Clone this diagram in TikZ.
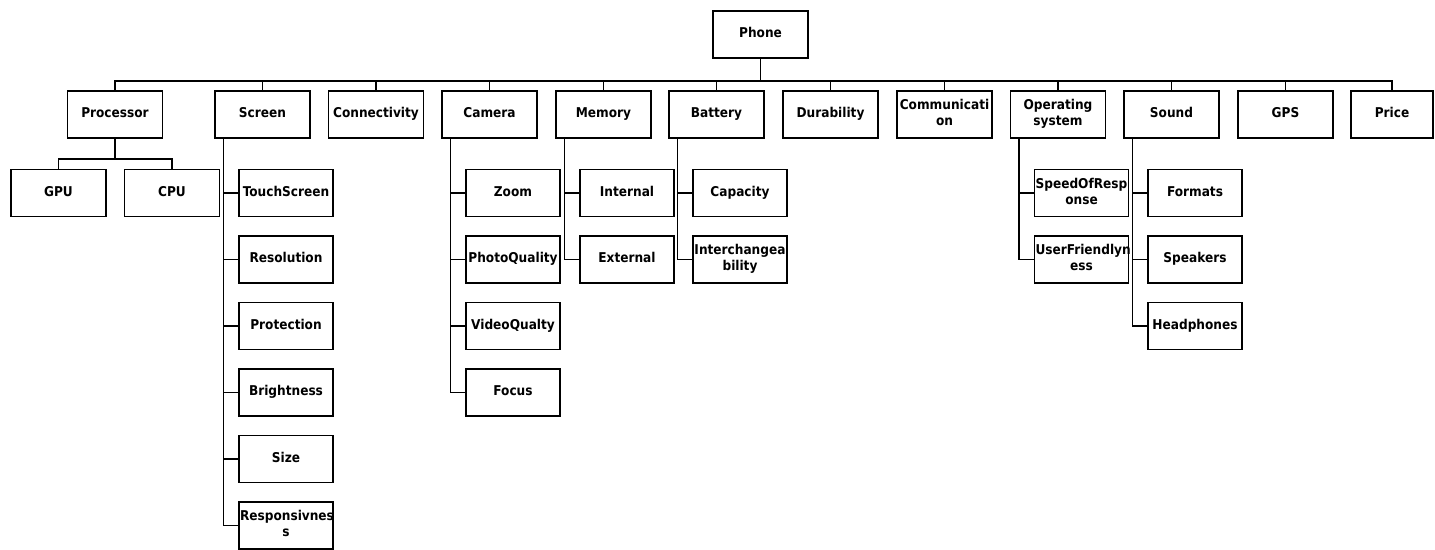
\documentclass[tikz,border=0pt]{standalone}
\usepackage{fontspec}
\setmainfont{DejaVu Sans Condensed}
\usepackage{tikz}

\begin{document}
\begin{tikzpicture}[x=1pt, y=-1pt,
    feature/.style ={rectangle, draw, line width=1.8pt, text width=93pt,
      minimum height=47pt, inner xsep=1pt, inner ysep=1pt, align=center,
      font=\fontsize{13.5}{16}\selectfont\bfseries,
      execute at begin node=\strut, execute at end node=\strut},
    subfeature/.style ={feature, text width=92pt},
    link/.style ={line width=1.5pt}]
   \useasboundingbox (0,0) rectangle (1435,549);
   \node[feature] (phone) at (760.5,34.5) {Phone};
   \coordinate (bus) at (760.5,81);
   % first level
   \node[feature] (proc) at (115,114.5) {Processor};
   \node[feature] (screen) at (262.5,114.5) {Screen};
   \node[feature] (conn) at (376,114.5) {Connectivity};
   \node[feature] (camera) at (489.5,114.5) {Camera};
   \node[feature] (memory) at (603.5,114.5) {Memory};
   \node[feature] (battery) at (716.5,114.5) {Battery};
   \node[feature] (durab) at (830.5,114.5) {Durability};
   \node[feature] (comm) at (944.5,114.5) {Communicati\\on};
   \node[feature] (os) at (1058,114.5) {Operating\\system};
   \node[feature] (sound) at (1171.5,114.5) {Sound};
   \node[feature] (gps) at (1285.5,114.5) {GPS};
   \node[feature, text width=80pt] (price) at (1392,114.5) {Price};
   \draw[link] (phone.south) -- (bus) -| (proc.north);
   \draw[link] (phone.south) -- (bus) -| (screen.north);
   \draw[link] (phone.south) -- (bus) -| (conn.north);
   \draw[link] (phone.south) -- (bus) -| (camera.north);
   \draw[link] (phone.south) -- (bus) -| (memory.north);
   \draw[link] (phone.south) -- (bus) -| (battery.north);
   \draw[link] (phone.south) -- (bus) -| (durab.north);
   \draw[link] (phone.south) -- (bus) -| (comm.north);
   \draw[link] (phone.south) -- (bus) -| (os.north);
   \draw[link] (phone.south) -- (bus) -| (sound.north);
   \draw[link] (phone.south) -- (bus) -| (gps.north);
   \draw[link] (phone.south) -- (bus) -| (price.north);
   % processor
   \node[feature] (gpu) at (58.5,193) {GPU};
   \node[feature] (cpu) at (172,193) {CPU};
   \coordinate (procbus) at (115,159);
   \draw[link] (proc.south) -- (procbus) -| (gpu.north);
   \draw[link] (proc.south) -- (procbus) -| (cpu.north);
   % screen
   \node[subfeature] (touch) at (286,193) {TouchScreen};
   \node[subfeature] (resol) at (286,259.5) {Resolution};
   \node[subfeature] (protect) at (286,326) {Protection};
   \node[subfeature] (bright) at (286,392.5) {Brightness};
   \node[subfeature] (size) at (286,459) {Size};
   \node[subfeature] (respons) at (286,525.5) {Responsivnes\\s};
   \draw[link] ([xshift=9.5pt]screen.south west) |- (touch.west);
   \draw[link] ([xshift=9.5pt]screen.south west) |- (resol.west);
   \draw[link] ([xshift=9.5pt]screen.south west) |- (protect.west);
   \draw[link] ([xshift=9.5pt]screen.south west) |- (bright.west);
   \draw[link] ([xshift=9.5pt]screen.south west) |- (size.west);
   \draw[link] ([xshift=9.5pt]screen.south west) |- (respons.west);
   % camera
   \node[subfeature] (zoom) at (513,193) {Zoom};
   \node[subfeature] (photo) at (513,259.5) {PhotoQuality};
   \node[subfeature] (video) at (513,326) {VideoQualty};
   \node[subfeature] (focus) at (513,392.5) {Focus};
   \draw[link] ([xshift=9.5pt]camera.south west) |- (zoom.west);
   \draw[link] ([xshift=9.5pt]camera.south west) |- (photo.west);
   \draw[link] ([xshift=9.5pt]camera.south west) |- (video.west);
   \draw[link] ([xshift=9.5pt]camera.south west) |- (focus.west);
   % memory
   \node[subfeature] (intern) at (627,193) {Internal};
   \node[subfeature] (extern) at (627,259.5) {External};
   \draw[link] ([xshift=9.5pt]memory.south west) |- (intern.west);
   \draw[link] ([xshift=9.5pt]memory.south west) |- (extern.west);
   % battery
   \node[subfeature] (capac) at (740,193) {Capacity};
   \node[subfeature] (interch) at (740,259.5) {Interchangea\\bility};
   \draw[link] ([xshift=9.5pt]battery.south west) |- (capac.west);
   \draw[link] ([xshift=9.5pt]battery.south west) |- (interch.west);
   % operating system
   \node[subfeature] (speed) at (1081.5,193) {SpeedOfResp\\onse};
   \node[subfeature] (user) at (1081.5,259.5) {UserFriendlyn\\ess};
   \draw[link] ([xshift=9.5pt]os.south west) |- (speed.west);
   \draw[link] ([xshift=9.5pt]os.south west) |- (user.west);
   % sound
   \node[subfeature] (format) at (1195,193) {Formats};
   \node[subfeature] (speak) at (1195,259.5) {Speakers};
   \node[subfeature] (head) at (1195,326) {Headphones};
   \draw[link] ([xshift=9.5pt]sound.south west) |- (format.west);
   \draw[link] ([xshift=9.5pt]sound.south west) |- (speak.west);
   \draw[link] ([xshift=9.5pt]sound.south west) |- (head.west);
 \end{tikzpicture}
\end{document}
